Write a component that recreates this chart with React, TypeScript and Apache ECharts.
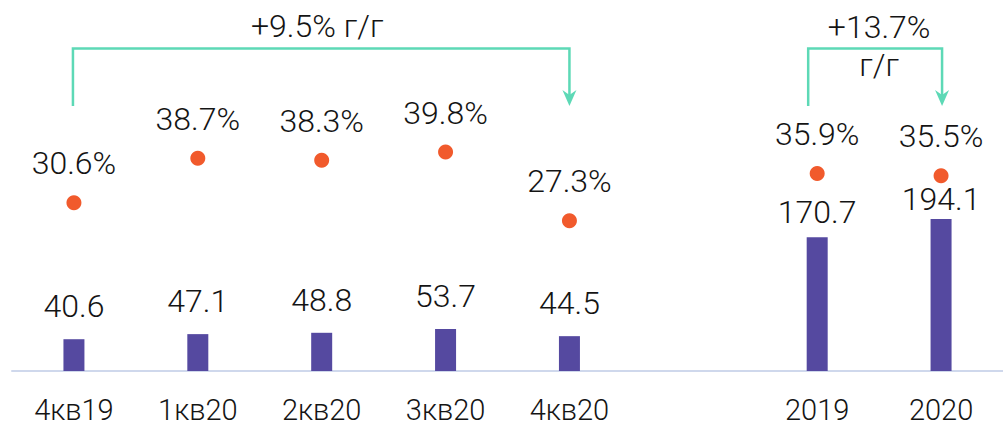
import React, { useEffect, useRef } from 'react';
import * as echarts from 'echarts';

const categories = ['4кв19', '1кв20', '2кв20', '3кв20', '4кв20', '', '2019', '2020'];
const revenue: (number | null)[] = [40.6, 47.1, 48.8, 53.7, 44.5, null, 170.7, 194.1];
const marginPct: (number | null)[] = [30.6, 38.7, 38.3, 39.8, 27.3, null, 35.9, 35.5];
const quarterGrowthText = '+9.5% г/г';
const yearGrowthValue = '+13.7%';
const yearGrowthUnit = 'г/г';

const FONT = 'Roboto, sans-serif';
const TEXT = '#141414';
const BAR = '#5549A0';
const DOT = '#F15A2C';
const TEAL = '#5DD9B6';
const FS = 32;

export default function App() {
  const ref = useRef<HTMLDivElement>(null);
  useEffect(() => {
    if (!ref.current) return;
    const chart = echarts.init(ref.current, null, { renderer: 'svg' });
    const annualLabelDist: Record<number, number> = { 6: 9, 7: 4 };
    chart.setOption({
      animation: false,
      grid: { left: 12, width: 997, top: 41, bottom: 54 },
      xAxis: {
        type: 'category',
        data: categories,
        boundaryGap: true,
        axisLine: { lineStyle: { color: '#CFD8EC', width: 2 } },
        axisTick: { show: false },
        axisLabel: { fontSize: 29, lineHeight: 29, fontFamily: FONT, fontWeight: 300, color: TEXT, margin: 24 },
      },
      yAxis: [
        { type: 'value', min: 0, max: 421.5, show: false, splitLine: { show: false } },
        { type: 'value', min: 0, max: 60, show: false, splitLine: { show: false } },
      ],
      series: [
        {
          type: 'bar',
          yAxisIndex: 0,
          barWidth: 21,
          itemStyle: { color: BAR, opacity: 1 },
          data: revenue.map((v, i) => ({
            value: v,
            label: annualLabelDist[i] !== undefined ? { distance: annualLabelDist[i] } : undefined,
          })),
          label: {
            show: true,
            position: 'top',
            distance: 17,
            fontSize: FS,
            fontFamily: FONT,
            fontWeight: 300,
            color: TEXT,
            formatter: (p: any) => (p.value == null ? '' : String(p.value)),
          },
        },
        {
          type: 'scatter',
          yAxisIndex: 1,
          symbol: 'circle',
          symbolSize: 15,
          itemStyle: { color: DOT, opacity: 1 },
          data: marginPct,
          label: {
            show: true,
            position: 'top',
            distance: 16,
            fontSize: FS,
            fontFamily: FONT,
            fontWeight: 300,
            color: TEXT,
            opacity: 1,
            formatter: (p: any) => (p.value == null ? '' : p.value.toFixed(1) + '%'),
          },
        },
      ],
    });

    const px = (i: number) => chart.convertToPixel({ xAxisIndex: 0 }, i) as number;
    const topY = 48.5;
    const botY = 106;
    const arrow = (x: number) => ({
      type: 'polygon',
      shape: { points: [[x, botY], [x - 7, botY - 16], [x, botY - 11], [x + 7, botY - 16]] },
      style: { fill: TEAL },
    });
    const line = (pts: number[][]) => ({
      type: 'polyline',
      shape: { points: pts },
      style: { stroke: TEAL, lineWidth: 2.5, fill: null },
    });
    const a0 = px(0) - 1;
    const a1 = px(4);
    const b0 = px(6) - 9;
    const b1 = px(7) + 1;
    const txt = { fontSize: FS, fontFamily: FONT, fontWeight: 300, fill: TEXT, align: 'center', verticalAlign: 'middle' };
    chart.setOption({
      graphic: [
        line([[a0, botY], [a0, topY], [a1, topY], [a1, botY - 8]]),
        arrow(a1),
        line([[b0, botY], [b0, topY], [b1, topY], [b1, botY - 8]]),
        arrow(b1),
        { type: 'text', x: (a0 + a1) / 2 - 4, y: 26, style: { ...txt, text: quarterGrowthText } },
        { type: 'text', x: (b0 + b1) / 2 + 4, y: 27, style: { ...txt, text: yearGrowthValue } },
        { type: 'text', x: (b0 + b1) / 2 + 4, y: 65, style: { ...txt, text: yearGrowthUnit } },
      ],
    });
    return () => chart.dispose();
  }, []);
  return <div ref={ref} style={{ position: 'absolute', left: 0, top: 0, width: 1003, height: 425 }} />;
}
